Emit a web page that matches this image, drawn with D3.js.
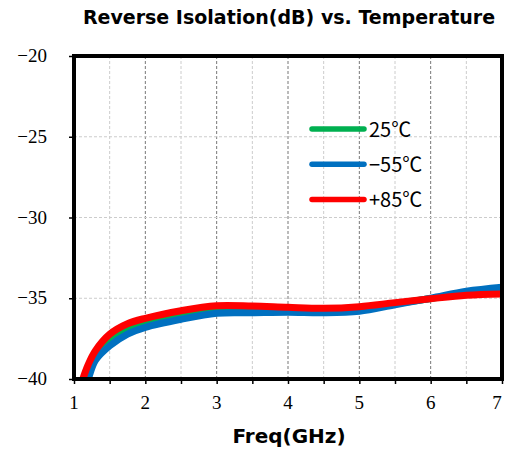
<!DOCTYPE html>
<html>
<head>
<meta charset="utf-8">
<script src="https://cdn.jsdelivr.net/npm/d3@7"></script>
<style>
  html, body { margin: 0; padding: 0; background: #fff; }
  svg { display: block; }
</style>
</head>
<body>
<div id="chart"></div>
<script>
// frequency points (GHz)
const freqs = [1.1, 1.2, 1.3, 1.5, 1.75, 2, 2.5, 3, 3.5, 4, 4.5, 5, 5.5, 6, 6.5, 7];
// reverse isolation (dB) per temperature
const iso25 = [-40.8, -39.65, -38.58, -37.62, -36.9, -36.5, -36.0, -35.7, -35.7, -35.72, -35.75, -35.65, -35.35, -35.02, -34.7, -34.53];
const isoM55 = [-41.2, -40.0, -38.85, -37.95, -37.22, -36.8, -36.3, -35.93, -35.9, -35.87, -35.9, -35.8, -35.4, -35.0, -34.57, -34.32];
const isoP85 = [-40.3, -39.1, -38.25, -37.23, -36.58, -36.24, -35.77, -35.46, -35.48, -35.56, -35.62, -35.52, -35.27, -35.03, -34.82, -34.74];

const seriesNames = ['25℃', '−55℃', '+85℃'];
const seriesColors = ['#00b050', '#0070c0', '#ff0000'];
const xTicks = [1, 2, 3, 4, 5, 6, 7];
const yTicks = [-20, -25, -30, -35, -40];

const W = 505, H = 453;
const m = { left: 74, right: 3, top: 56, bottom: 74 };
const serif = '"Liberation Serif", "DejaVu Serif", "Times New Roman", serif';

const svg = d3.select('#chart').append('svg').attr('width', W).attr('height', H);

const x = d3.scaleLinear().domain([1, 7]).range([m.left, W - m.right]);
const y = d3.scaleLinear().domain([-40, -20]).range([H - m.bottom, m.top]);

// title
svg.append('text')
  .attr('x', 289).attr('y', 24)
  .attr('text-anchor', 'middle')
  .attr('font-family', '"DejaVu Sans", sans-serif')
  .attr('font-weight', 'bold')
  .attr('font-size', 19)
  .text('Reverse Isolation(dB) vs. Temperature');

// grid
const grid = svg.append('g');
d3.range(1.5, 7, 0.5).forEach(f => {
  const major = Math.abs(f - Math.round(f)) < 1e-6;
  grid.append('line')
    .attr('x1', x(f)).attr('x2', x(f))
    .attr('y1', y(-20)).attr('y2', y(-40))
    .attr('stroke', major ? '#777' : '#ccc')
    .attr('stroke-width', 1)
    .attr('stroke-dasharray', '3,2');
});
[-25, -30, -35].forEach(v => {
  grid.append('line')
    .attr('x1', x(1)).attr('x2', x(7))
    .attr('y1', y(v)).attr('y2', y(v))
    .attr('stroke', '#ccc')
    .attr('stroke-width', 1)
    .attr('stroke-dasharray', '3,2');
});

// clip to plot area
svg.append('clipPath').attr('id', 'clip')
  .append('rect')
  .attr('x', x(1)).attr('y', y(-20))
  .attr('width', x(7) - x(1)).attr('height', y(-40) - y(-20));

const line = d3.line()
  .x(d => x(d[0]))
  .y(d => y(d[1]))
  .curve(d3.curveCatmullRom);

const allSeries = [iso25, isoM55, isoP85];
const lines = svg.append('g').attr('clip-path', 'url(#clip)');
allSeries.forEach((vals, i) => {
  lines.append('path')
    .datum(freqs.map((f, j) => [f, vals[j]]))
    .attr('d', line)
    .attr('fill', 'none')
    .attr('stroke', seriesColors[i])
    .attr('stroke-width', 7)
    .attr('stroke-linejoin', 'round');
});

// axes
const xAxis = svg.append('g')
  .attr('transform', `translate(0,${y(-40)})`)
  .call(d3.axisBottom(x).tickValues(d3.range(1, 7.01, 0.5)).tickSize(5).tickFormat(''));
const yAxis = svg.append('g')
  .attr('transform', `translate(${x(1)},0)`)
  .call(d3.axisLeft(y).tickValues(yTicks).tickSize(5).tickFormat(''));
[xAxis, yAxis].forEach(a => {
  a.select('.domain').remove();
  a.selectAll('line').attr('stroke', '#000').attr('stroke-width', 1.5);
});

// frame
svg.append('rect')
  .attr('x', x(1)).attr('y', y(-20))
  .attr('width', x(7) - x(1)).attr('height', y(-40) - y(-20))
  .attr('fill', 'none')
  .attr('stroke', '#000')
  .attr('stroke-width', 4);

// tick labels
svg.append('g').selectAll('text')
  .data(xTicks).join('text')
  .attr('x', d => Math.min(x(d), 497)).attr('y', 409)
  .attr('text-anchor', 'middle')
  .attr('font-family', serif)
  .attr('font-size', 19)
  .text(d => d);
svg.append('g').selectAll('text')
  .data(yTicks).join('text')
  .attr('x', 47).attr('y', d => y(d) + 6)
  .attr('text-anchor', 'end')
  .attr('font-family', serif)
  .attr('font-size', 19)
  .text(d => '−' + Math.abs(d));

// x label
svg.append('text')
  .attr('x', 289).attr('y', 443)
  .attr('text-anchor', 'middle')
  .attr('font-family', '"DejaVu Sans", sans-serif')
  .attr('font-weight', 'bold')
  .attr('font-size', 20)
  .text('Freq(GHz)');

// legend
const legend = svg.append('g');
seriesNames.forEach((name, i) => {
  const ly = 129 + i * 35.2;
  legend.append('line')
    .attr('x1', 312).attr('x2', 364)
    .attr('y1', ly).attr('y2', ly)
    .attr('stroke', seriesColors[i])
    .attr('stroke-width', 5.5)
    .attr('stroke-linecap', 'round');
  legend.append('text')
    .attr('x', 369).attr('y', ly + 8)
    .attr('font-family', '"Noto Sans CJK JP", sans-serif')
    .attr('font-size', 20)
    .text(name);
});
</script>
</body>
</html>
